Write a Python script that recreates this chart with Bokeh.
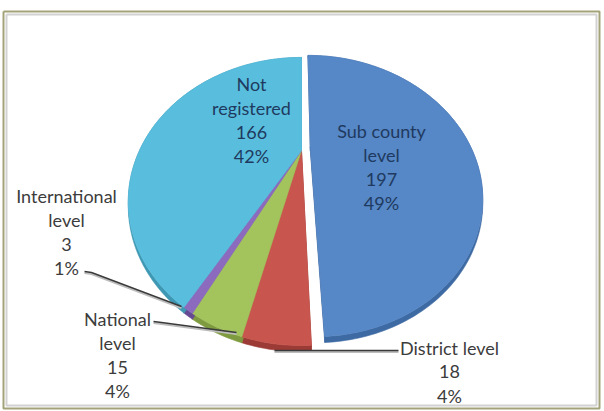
import numpy as np
from bokeh.plotting import figure
from bokeh.models import Range1d, ColumnDataSource
from bokeh.embed import file_html
from bokeh.resources import INLINE
from bokeh.core.properties import value

# ---------------- data ----------------
categories = ["Sub county level", "District level", "National level",
              "International level", "Not registered"]
counts = [197, 18, 15, 3, 166]
percent_labels = ["49%", "4%", "4%", "1%", "42%"]
name_lines = [["Sub county", "level"], ["District level"], ["National", "level"],
              ["International", "level"], ["Not", "registered"]]

# ---------------- styling / layout ----------------
top_colors = ["#5687C6", "#C8554E", "#A3C35D", "#8C6BBE", "#59BEDD"]
side_colors = ["#3E6AA3", "#9C3B36", "#7F9B40", "#664A93", "#3F98B3"]
inner_label = [True, False, False, False, True]
label_anchor = [(381, 130), (449, 347), (117, 318), (66, 195), (251, 83)]
leader_lines = [None,
                [(274, 350), (398, 350)],
                [(153, 321), (161, 322), (236, 332)],
                [(84, 271), (91, 272), (181, 306)],
                None]
exploded = [True, False, False, False, False]

W, H = 604, 411
CX, CY = 301.0, 150.0          # projected pie centre
A, B, K = 162.0, 126.0, 0.354  # perspective projection parameters
T = 4.0                        # thickness of the pie
EXP_U, EXP_V = 0.055, 0.03     # explosion offset of the pulled-out slice


def proj(u, v, z=0.0):
    d = 1.0 + K * v
    return CX + A * u / d, CY - B * v / d + T * z / d


p = figure(width=W, height=H, output_backend="svg", toolbar_location=None,
           x_range=Range1d(0, W), y_range=Range1d(H, 0),
           x_axis_location=None, y_axis_location=None, min_border=0)
p.outline_line_color = None
p.background_fill_color = "white"
p.border_fill_color = "white"
p.xgrid.visible = False
p.ygrid.visible = False

total = float(sum(counts))
fracs = np.array(counts) / total
ends = np.cumsum(fracs) * 2 * np.pi
starts = ends - fracs * 2 * np.pi

side_xs, side_ys, side_c = [], [], []
top_xs, top_ys, top_c = [], [], []
for i in range(len(counts)):
    a0, a1 = starts[i], ends[i]
    n = max(8, int((a1 - a0) / (2 * np.pi) * 360))
    th = np.linspace(a0, a1, n)
    du, dv = (EXP_U, EXP_V) if exploded[i] else (0.0, 0.0)
    u = np.sin(th) + du
    v = np.cos(th) + dv
    tx, ty = proj(u, v, 0.0)
    bx, by = proj(u, v, 1.0)
    cxt, cyt = proj(du, dv, 0.0)
    cxb, cyb = proj(du, dv, 1.0)
    # outer rim
    side_xs.append(list(tx) + list(bx[::-1]))
    side_ys.append(list(ty) + list(by[::-1]))
    side_c.append(side_colors[i])
    # radial faces
    for j in (0, -1):
        side_xs.append([cxt, tx[j], bx[j], cxb])
        side_ys.append([cyt, ty[j], by[j], cyb])
        side_c.append(side_colors[i])
    # top face
    top_xs.append([cxt] + list(tx))
    top_ys.append([cyt] + list(ty))
    top_c.append(top_colors[i])

p.patches(xs="xs", ys="ys", fill_color="c", line_color="c", line_width=0.6,
          source=ColumnDataSource(dict(xs=side_xs, ys=side_ys, c=side_c)))
p.patches(xs="xs", ys="ys", fill_color="c", line_color="c", line_width=0.6,
          source=ColumnDataSource(dict(xs=top_xs, ys=top_ys, c=top_c)))

# leader lines
for ll in leader_lines:
    if ll is None:
        continue
    xs = [pt[0] for pt in ll]
    ys = [pt[1] for pt in ll]
    p.line(xs, [y + 1.5 for y in ys], line_color="#bdbdbd", line_width=2)
    p.line(xs, ys, line_color="#3a3a3a", line_width=1.4)

# labels
LINE_H = 24.3
lx, ly, lt, lc = [], [], [], []
for i in range(len(counts)):
    lines = name_lines[i] + [str(counts[i]), percent_labels[i]]
    x0, y0 = label_anchor[i]
    for k, t in enumerate(lines):
        lx.append(x0)
        ly.append(y0 + k * LINE_H)
        lt.append(t)
        lc.append("#1F3A60" if inner_label[i] else "#3c3c3c")

p.text(x="x", y="y", text="t", text_color="c",
       source=ColumnDataSource(dict(x=lx, y=ly, t=lt, c=lc)),
       text_font=value("Lato"), text_font_size="18px",
       text_align="center", text_baseline="middle")

# frame
p.line([3, 599, 599, 3, 3], [11, 11, 408, 408, 11], line_color="#A3A37A", line_width=2)
p.line([6, 596, 596, 6, 6], [14, 14, 405, 405, 14], line_color="#D2D2D2", line_width=2)

open("out.html", "w").write(file_html(p, INLINE))
